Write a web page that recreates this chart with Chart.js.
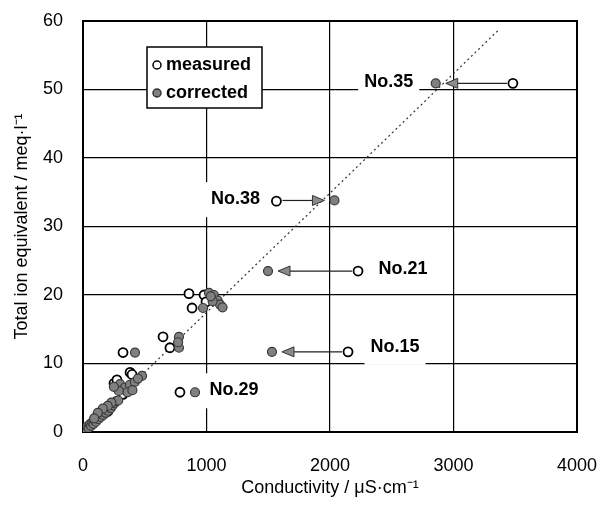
<!DOCTYPE html>
<html>
<head>
<meta charset="utf-8">
<script src="https://cdn.jsdelivr.net/npm/chart.js@4.4.1/dist/chart.umd.min.js"></script>
<style>
body{margin:0;background:#fff;}
</style>
</head>
<body>
<canvas id="myChart" width="603" height="511"></canvas>
<script>
// first five entries of each series are the labelled samples
const sampleNames = ["No.35", "No.38", "No.21", "No.15", "No.29"];

const measuredX = [3481, 1566, 2227, 2146, 785,
  858, 980, 883, 996, 648, 704, 324, 381, 397, 251, 324, 275,
  120, 200, 230, 60, 160];
const measuredY = [50.9, 33.7, 23.5, 11.7, 5.8,
  20.2, 20.0, 18.1, 19.0, 13.9, 12.3, 11.6, 8.7, 8.4, 7.1, 5.5, 7.6,
  2.0, 3.0, 4.1, 1.1, 2.9];

const correctedX = [2856, 2036, 1498, 1530, 907,
  972, 1020, 1060, 1090, 1110, 1050, 1035, 1130,
  777, 777, 770, 421,
  478, 300, 340, 380, 420, 445, 360, 400, 290, 250,
  5, 15, 25, 35, 45, 55, 65, 75, 85, 95, 105, 115, 125, 135, 145, 155, 165,
  175, 185, 195, 205, 215, 225, 240, 255, 270, 285, 230, 200, 160, 120, 90];
const correctedY = [50.9, 33.8, 23.5, 11.7, 5.8,
  18.1, 20.3, 20.0, 19.2, 18.6, 19.1, 19.8, 18.2,
  13.9, 12.3, 13.1, 11.6,
  8.2, 7.0, 6.5, 6.9, 7.3, 7.8, 5.8, 6.1, 6.0, 6.6,
  0.1, 0.5, 0.3, 0.8, 0.6, 1.1, 0.9, 1.4, 1.2, 1.7, 1.5, 2.0, 1.9, 2.3, 2.2, 2.6, 2.5,
  2.9, 2.8, 3.2, 3.1, 3.6, 3.5, 3.9, 4.2, 4.5, 4.6, 4.3, 3.8, 3.4, 2.8, 2.0];

const fitX = [0, 3360];
const fitY = [0, 58.6];

const xTicks = [0, 1000, 2000, 3000, 4000];
const yTicks = [0, 10, 20, 30, 40, 50, 60];

// which samples get an arrow (measured -> corrected)
const arrowSamples = [0, 1, 2, 3];

const FONT = "'Liberation Sans', Arial, sans-serif";
const myChart = document.querySelector("#myChart").getContext("2d");

// where each sample label sits next to its point (pixel offsets)
const noteStyle = [
  {from: "corrected", dx: -47, dy: -1},
  {from: "measured", dx: -41, dy: -2},
  {from: "measured", dx: 45, dy: -2},
  {from: "measured", dx: 47, dy: -5},
  {from: "corrected", dx: 39, dy: -2}
];

const toPoints = (xs, ys) => xs.map((x, i) => ({x: x, y: ys[i]}));

const extras = {
  id: "extras",
  beforeDatasetsDraw(chart) {
    const {ctx, chartArea: a, scales: {x, y}} = chart;
    ctx.save();
    // label boxes cut the grid like in the print
    ctx.font = "bold 18px " + FONT;
    ctx.textAlign = "center";
    ctx.textBaseline = "middle";
    sampleNames.forEach((name, i) => {
      const s = noteStyle[i];
      const px = s.from === "measured" ? measuredX[i] : correctedX[i];
      const py = s.from === "measured" ? measuredY[i] : correctedY[i];
      const cx = x.getPixelForValue(px) + s.dx;
      const cy = y.getPixelForValue(py) + s.dy;
      const w = ctx.measureText(name).width;
      ctx.fillStyle = "#fff";
      ctx.fillRect(cx - w / 2 - 6, cy - 17, w + 12, 35);
      ctx.fillStyle = "#000";
      ctx.fillText(name, cx, cy);
    });
    // legend
    const lx = a.left + 64, ly = a.top + 26, lw = 115, lh = 61;
    ctx.fillStyle = "#fff";
    ctx.fillRect(lx, ly, lw, lh);
    ctx.strokeStyle = "#000";
    ctx.lineWidth = 1.5;
    ctx.strokeRect(lx, ly, lw, lh);
    ctx.beginPath();
    ctx.arc(lx + 10, ly + 18, 4, 0, Math.PI * 2);
    ctx.fillStyle = "#fff";
    ctx.fill();
    ctx.stroke();
    ctx.beginPath();
    ctx.arc(lx + 10, ly + 46, 4, 0, Math.PI * 2);
    ctx.fillStyle = "#808080";
    ctx.fill();
    ctx.strokeStyle = "#333";
    ctx.stroke();
    ctx.fillStyle = "#000";
    ctx.textAlign = "left";
    ctx.fillText("measured", lx + 19, ly + 18);
    ctx.fillText("corrected", lx + 19, ly + 46);
    // frame
    ctx.strokeStyle = "#000";
    ctx.lineWidth = 2;
    ctx.strokeRect(a.left, a.top, a.right - a.left, a.bottom - a.top);
    ctx.restore();
  },
  afterDatasetsDraw(chart) {
    const {ctx, scales: {x, y}} = chart;
    ctx.save();
    arrowSamples.forEach(i => {
      const x1 = x.getPixelForValue(measuredX[i]);
      const x2 = x.getPixelForValue(correctedX[i]);
      const py = y.getPixelForValue(correctedY[i]);
      const dir = x2 < x1 ? -1 : 1;
      const tip = x2 - dir * 10;
      const base = tip - dir * 12;
      ctx.strokeStyle = "#222";
      ctx.lineWidth = 1.2;
      ctx.beginPath();
      ctx.moveTo(x1 + dir * 6, py);
      ctx.lineTo(base, py);
      ctx.stroke();
      ctx.beginPath();
      ctx.moveTo(tip, py);
      ctx.lineTo(base, py - 5);
      ctx.lineTo(base, py + 5);
      ctx.closePath();
      ctx.fillStyle = "#8a8a8a";
      ctx.fill();
      ctx.strokeStyle = "#333";
      ctx.lineWidth = 1;
      ctx.stroke();
    });
    ctx.restore();
  }
};

// eslint-disable-next-line no-unused-vars
const ourCanvas = new Chart(myChart, {
  type: "scatter",
  data: {
    datasets: [
      {
        label: "corrected",
        data: toPoints(correctedX, correctedY),
        pointRadius: 4.5,
        pointBackgroundColor: "#808080",
        pointBorderColor: "#3a3a3a",
        pointBorderWidth: 1.2,
        pointHoverRadius: 4.5
      },
      {
        label: "measured",
        data: toPoints(measuredX, measuredY),
        pointRadius: 4.5,
        pointBackgroundColor: "#fff",
        pointBorderColor: "#000",
        pointBorderWidth: 1.8,
        pointHoverRadius: 4.5
      },
      {
        type: "line",
        label: "fit",
        data: toPoints(fitX, fitY),
        borderColor: "#333",
        borderWidth: 1.2,
        borderDash: [2, 3],
        pointRadius: 0,
        fill: false
      }
    ]
  },
  options: {
    responsive: false,
    animation: false,
    layout: {padding: {left: 0, right: 26, top: 21, bottom: 0}},
    plugins: {legend: {display: false}, tooltip: {enabled: false}},
    scales: {
      x: {
        type: "linear",
        min: 0,
        max: 4000,
        afterBuildTicks: s => { s.ticks = xTicks.map(v => ({value: v})); },
        afterFit: s => { s.height = 79; },
        grid: {color: "#000", lineWidth: 1.2, drawTicks: true, tickLength: 23, tickColor: "rgba(0,0,0,0)"},
        border: {color: "#000", width: 2},
        ticks: {color: "#000", padding: 0, font: {family: FONT, size: 18}, callback: v => String(v)},
        title: {
          display: true,
          text: "Conductivity / μS·cm⁻¹",
          color: "#000",
          font: {family: FONT, size: 18},
          padding: {top: 0, bottom: 12}
        }
      },
      y: {
        type: "linear",
        min: 0,
        max: 60,
        afterBuildTicks: s => { s.ticks = yTicks.map(v => ({value: v})); },
        afterFit: s => { s.width = 83; },
        grid: {color: "#000", lineWidth: 1.2, drawTicks: true, tickLength: 20, tickColor: "rgba(0,0,0,0)"},
        border: {color: "#000", width: 2},
        ticks: {color: "#000", padding: 0, font: {family: FONT, size: 18}, callback: v => String(v)},
        title: {
          display: true,
          text: "Total ion equivalent / meq·l⁻¹",
          color: "#000",
          font: {family: FONT, size: 18},
          padding: {top: 11, bottom: 0}
        }
      }
    }
  },
  plugins: [extras]
});
</script>
</body>
</html>
